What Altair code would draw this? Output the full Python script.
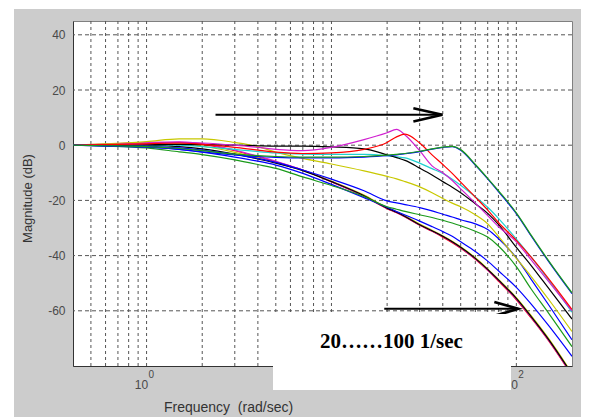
import altair as alt
import pandas as pd

# ---------------- data ----------------
freq = [0.4, 0.6, 1, 1.5, 2, 3, 4, 5, 7, 10, 15, 20, 22.5, 25, 30, 35, 40, 45,
        50, 60, 70, 80, 100, 120, 150, 200]

# lower bundle (early roll-off)
red_low = [0, 0.3, 0.8, 0.9, 0.3, -2.0, -4.2, -6.0, -9.0, -13.3, -18.5, -23.0, -24.5, -26.0, -29.0, -31.2,
           -33.3, -35.3, -37.3, -41.3, -45.3, -49.2, -56.0, -62.5, -71.0, -83.5]
yellow_low = [0, 0.2, 0.5, 0.5, -0.3, -2.6, -4.6, -6.3, -9.1, -13.0, -18.1, -22.6, -24.1, -25.6, -28.6, -30.8,
              -32.8, -34.8, -36.8, -40.8, -44.8, -48.6, -55.2, -61.7, -70.2, -82.7]
magenta_low = [0, 0.4, 1.0, 1.2, 0.6, -1.8, -4.0, -5.8, -9.0, -13.2, -18.4, -22.9, -24.4, -25.9, -28.9, -31.1,
               -33.1, -35.1, -37.2, -41.2, -45.2, -49.0, -55.8, -62.3, -70.8, -83.3]
black_low = [0, 0.1, 0.0, -0.5, -1.3, -3.2, -5.0, -6.5, -9.2, -13.2, -18.3, -22.8, -24.3, -25.8, -28.8, -31.0,
             -33.0, -35.0, -37.0, -41.0, -45.0, -48.8, -55.5, -62.0, -70.5, -83.0]
blue_lower_mid = [0, -0.2, -0.6, -1.5, -2.5, -4.3, -5.8, -7.2, -10.2, -14.2, -19.0, -22.5, -24.0, -25.3, -27.5,
                  -29.5, -31.3, -33.0, -35.0, -38.5, -42.0, -45.5, -51.5, -57.5, -65.5, -76.5]
green_mid = [0, -0.3, -1.0, -2.4, -3.4, -5.3, -7.0, -8.4, -11.5, -14.6, -18.6, -22.3, -23.2, -24.0, -25.2, -26.2,
             -27.2, -28.2, -29.2, -31.2, -33.3, -36.5, -44.0, -52.0, -61.0, -73.0]
blue_upper_mid = [0, 0.1, -0.3, -1.0, -1.8, -3.4, -4.8, -6.2, -9.0, -12.3, -16.5, -20.2, -20.9, -21.5, -22.6,
                  -23.8, -25.0, -26.0, -27.0, -28.5, -30.5, -33.8, -40.8, -48.5, -58.0, -70.5]
# upper group (late roll-off)
yellow_high = [0, 0.5, 1.3, 2.3, 2.3, 1.0, -0.5, -2.5, -4.8, -6.8, -9.3, -11.3, -12.2, -13.2, -15.1, -17.2,
               -19.3, -21.0, -22.3, -25.2, -28.5, -33.0, -41.0, -47.5, -56.0, -67.5]
cyan_high = [0, 0, 0.2, 0.0, -0.5, -1.5, -2.3, -2.8, -3.2, -3.3, -3.3, -3.8, -4.2, -4.6, -6.5, -8.5,
             -10.2, -12.3, -14.5, -18.7, -22.5, -26.5, -34.0, -40.5, -49.0, -60.5]
black_high = [0, 0, 0.2, 0.3, 0.2, 0.0, -0.2, -0.3, -0.3, -0.6, -1.3, -3.5, -4.5, -5.5, -8.3, -10.8,
              -13.2, -15.2, -17.2, -21.2, -24.7, -28.7, -37.0, -43.5, -52.0, -63.0]
magenta_high = [0, 0.2, 0.6, 1.0, 0.8, 0.0, -0.8, -1.5, -2.0, -0.8, 2.0, 4.5, 5.7, 3.7, -2.0, -7.5,
                -10.0, -12.8, -15.8, -21.0, -25.5, -29.5, -35.0, -41.5, -49.5, -60.0]
red_high = [0, 0.2, 0.5, 0.8, 0.3, -0.8, -1.8, -2.5, -3.0, -2.8, -1.5, 1.0, 3.0, 4.0, 0.8, -3.5,
            -7.0, -10.2, -13.4, -18.8, -23.5, -28.0, -34.5, -40.5, -48.5, -59.5]
blue_peak = [0, -0.3, -0.7, -1.5, -2.4, -3.5, -4.1, -4.4, -4.6, -4.6, -4.3, -3.8, -3.5, -3.1, -2.3, -1.4,
             -0.8, -0.5, -1.8, -7.2, -12.2, -16.8, -24.8, -32.8, -42.3, -53.8]
green_peak = [0, -0.2, -0.5, -1.2, -2.0, -3.2, -3.8, -4.1, -4.3, -4.3, -4.1, -3.6, -3.3, -3.0, -2.2, -1.3,
              -0.7, -0.4, -1.6, -7.0, -12.0, -16.5, -24.5, -32.5, -42.0, -53.5]

series_names = ["01", "02", "03", "04", "05", "06", "07", "08", "09", "10", "11", "12", "13", "14"]
series_colors = ["#FF0000", "#C8C800", "#D020D0", "#000000", "#0000FF", "#1A9A1A", "#0000FF",
                 "#C8C800", "#20D0D0", "#000000", "#D020D0", "#FF0000", "#0000FF", "#1A9A1A"]
series_values = [red_low, yellow_low, magenta_low, black_low, blue_lower_mid, green_mid, blue_upper_mid,
                 yellow_high, cyan_high, black_high, magenta_high, red_high, blue_peak, green_peak]

grid_freq = [0.5, 0.6, 0.7, 0.8, 0.9, 1, 2, 3, 4, 5, 6, 7, 8, 9, 10,
             20, 30, 40, 50, 60, 70, 80, 90, 100]
grid_db = [-60, -40, -20, 0, 20, 40]
y_ticks = [-60, -40, -20, 0, 20, 40]
x_ticks = [1, 10, 100]
x_exponents = ["0", "1", "2"]

arrow_start = [2.36, 19.3]
arrow_end = [39.8, 102.5]
arrow_db = [11.0, -59.3]

note_text = ["20……100 1/sec"]
note_f = [21.1]
note_db = [-73.4]

# ---------------- tables ----------------
rows = []
for name, vals in zip(series_names, series_values):
    for f, v in zip(freq, vals):
        rows.append({"f": f, "db": v, "curve": name})
curves = pd.DataFrame(rows)

FONT = "Liberation Sans"
LABEL_COLOR = "#4a4a4a"
xs = alt.Scale(type="log", domain=[0.4, 200], nice=False)
ys = alt.Scale(domain=[-80, 45], nice=False, zero=False)

xaxis = alt.Axis(values=x_ticks, labelExpr="'10'", grid=False, ticks=False, tickSize=0,
                 domainColor="#333333", labelFont=FONT, labelFontSize=12, labelColor=LABEL_COLOR,
                 labelAlign="right", labelBaseline="alphabetic", labelPadding=22, labelOffset=1,
                 labelFlush=False, labelOverlap=False,
                 title="Frequency\u00a0 (rad/sec)", titleFont=FONT, titleFontSize=14,
                 titleFontWeight="normal", titleColor="#333333", titleX=155, titleY=41,
                 titleAlign="center", titleBaseline="middle")
yaxis = alt.Axis(values=y_ticks, grid=False, ticks=False, tickSize=0, domainColor="#333333",
                 labelExpr="datum.value < 0 ? '-' + abs(datum.value) : '' + datum.value",
                 labelFont=FONT, labelFontSize=12, labelColor=LABEL_COLOR, labelPadding=8,
                 labelFlush=False,
                 title="Magnitude (dB)", titleFont=FONT, titleFontSize=13, titleFontWeight="normal",
                 titleColor="#333333", titleX=-46, titleY=177, titleAngle=270,
                 titleAlign="center", titleBaseline="middle")

X = alt.X("f:Q", scale=xs, axis=xaxis)
Y = alt.Y("db:Q", scale=ys, axis=yaxis)

vgrid = alt.Chart(pd.DataFrame({"f": grid_freq})).mark_rule(
    color="#555555", strokeDash=[3, 3], strokeWidth=1).encode(x=X)
hgrid = alt.Chart(pd.DataFrame({"db": grid_db})).mark_rule(
    color="#555555", strokeDash=[4, 3], strokeWidth=1).encode(y=Y)

lines = alt.Chart(curves).mark_line(strokeWidth=1.2, interpolate="monotone", clip=True).encode(
    x=X, y=Y,
    color=alt.Color("curve:N", scale=alt.Scale(domain=series_names, range=series_colors), legend=None),
)

arrows_df = pd.DataFrame({"f": arrow_start, "f2": arrow_end, "db": arrow_db})
arrow_lines = alt.Chart(arrows_df).mark_rule(color="black", strokeWidth=2).encode(
    x=X, x2="f2:Q", y=Y)
head_top = alt.Chart(pd.DataFrame({"f": arrow_end[:1], "db": arrow_db[:1]})).mark_point(
    shape="M-1,-0.23L0,0L-1,0.23", size=3364, filled=False, color="black",
    strokeWidth=2.6, opacity=1).encode(x=X, y=Y)
head_bot = alt.Chart(pd.DataFrame({"f": arrow_end[1:], "db": arrow_db[1:]})).mark_point(
    shape="M-1,-0.29L0,0L-1,0.29", size=2304, filled=False, color="black",
    strokeWidth=2.6, opacity=1).encode(x=X, y=Y)

exps = alt.Chart(pd.DataFrame({"f": x_ticks, "exp": x_exponents})).mark_text(
    align="left", baseline="alphabetic", dx=2, fontSize=10, font=FONT, color=LABEL_COLOR).encode(
    x=X, y=alt.value(357), text="exp:N")

box = alt.Chart(pd.DataFrame({"a": [0]})).mark_rect(color="white", opacity=1).encode(
    x=alt.value(200), x2=alt.value(438), y=alt.value(293), y2=alt.value(369))

note = alt.Chart(pd.DataFrame({"f": note_f, "db": note_db, "t": note_text})).mark_text(
    font="Liberation Serif", fontWeight="bold", fontSize=21, align="center",
    baseline="alphabetic", color="black").encode(x=X, y=Y, text="t:N")

strip_left = alt.Chart(pd.DataFrame({"a": [0]})).mark_rect(color="white", opacity=1).encode(
    x=alt.value(-65), x2=alt.value(-59), y=alt.value(-13), y2=alt.value(396))
strip_top = alt.Chart(pd.DataFrame({"a": [0]})).mark_rect(color="white", opacity=1).encode(
    x=alt.value(-65), x2=alt.value(508), y=alt.value(-13), y2=alt.value(-12))

chart = alt.layer(
    vgrid, hgrid, lines, arrow_lines, head_top, head_bot, exps, box, note, strip_left, strip_top
).properties(
    width=499, height=345,
    padding={"left": 65, "top": 13, "right": 9, "bottom": 51},
    autosize=alt.AutoSizeParams(type="none"),
    background="#CCCCCC",
).configure_view(fill="white", stroke="#808080", strokeWidth=1)

chart.save("out.html", embed_options={"renderer": "svg", "actions": False})
